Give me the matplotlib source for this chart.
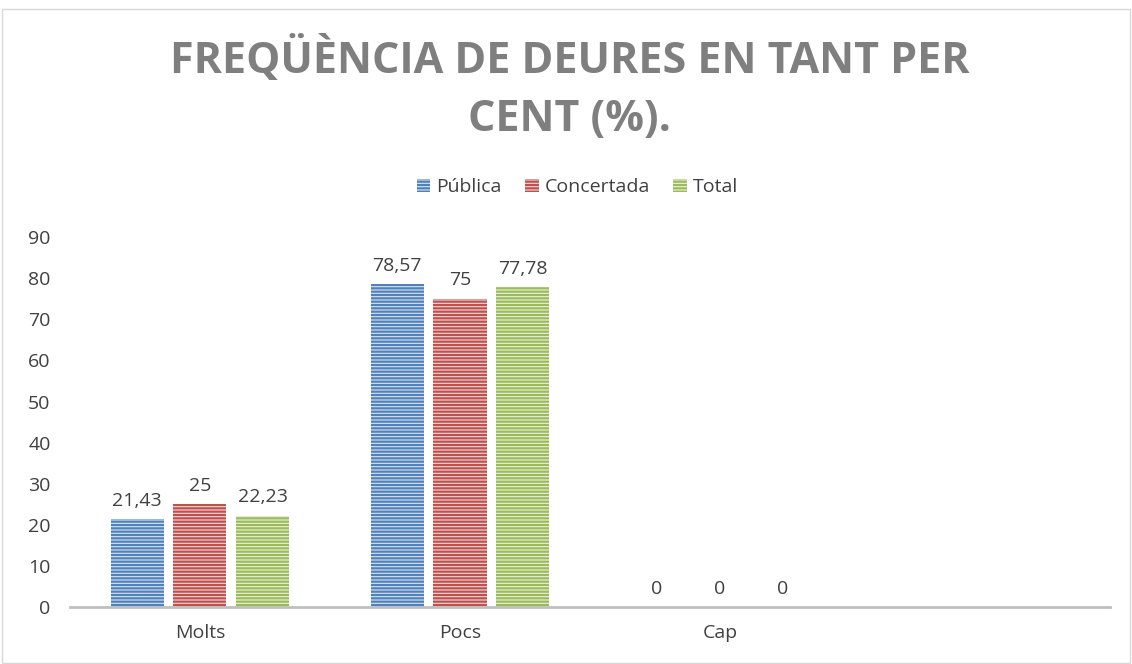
import numpy as np
import matplotlib.pyplot as plt
from matplotlib.patches import Rectangle

# DATA
categories = ["Molts", "Pocs", "Cap", ""]
series = ["Pública", "Concertada", "Total"]
publica = [21.43, 78.57, 0]
concertada = [25, 75, 0]
total = [22.23, 77.78, 0]
labels_pub = ["21,43", "78,57", "0"]
labels_con = ["25", "75", "0"]
labels_tot = ["22,23", "77,78", "0"]

colors = ["#4f81bd", "#c0504d", "#9bbb59"]
light = ["#dbe5f1", "#f2dcdb", "#ebf1de"]
txt = "#404040"

plt.rcParams['font.family'] = ['Open Sans', 'DejaVu Sans']
plt.rcParams['hatch.linewidth'] = 1.6

fig = plt.figure(figsize=(11.32, 6.64), dpi=100)
ax = fig.add_axes([0.0618, 0.0858, 0.9188, 0.557])

x = np.arange(len(categories))
w = 0.204
off = 0.242
values = [publica, concertada, total]
labs = [labels_pub, labels_con, labels_tot]
for i, (vals, lab) in enumerate(zip(values, labs)):
    xs = x[:3] + (i - 1) * off
    bars = ax.bar(xs, vals, width=w, facecolor=light[i], edgecolor=colors[i],
                  hatch='-----', linewidth=0, label=series[i])
    for b, v, t in zip(bars, vals, lab):
        ax.text(b.get_x() + w / 2, v + 2.3, t, ha='center', va='bottom',
                fontsize=14, color=txt)

ax.set_xlim(-0.5, 3.5)
ax.set_ylim(0, 90)
ax.set_yticks(range(0, 91, 10))
ax.set_xticks(x[:3])
ax.set_xticklabels(categories[:3])
ax.tick_params(length=0, labelsize=14, labelcolor=txt)
ax.tick_params(axis='x', pad=12)
ax.tick_params(axis='y', pad=14)
for s in ['top', 'right', 'left']:
    ax.spines[s].set_visible(False)
ax.spines['bottom'].set_color('#bfbfbf')
ax.spines['bottom'].set_linewidth(2)

# title (gray, bold, two lines)
fig.text(0.503, 0.91, "FREQÜÈNCIA DE DEURES EN TANT PER", ha='center', va='center',
         fontsize=31, fontweight='bold', color='#7f7f7f')
fig.text(0.503, 0.82, "CENT (%).", ha='center', va='center',
         fontsize=31, fontweight='bold', color='#7f7f7f')

leg = fig.legend(*ax.get_legend_handles_labels(), loc='center', bbox_to_anchor=(0.51, 0.718),
                 ncol=3, frameon=False, fontsize=14, handlelength=0.7, handleheight=0.7,
                 handletextpad=0.3, columnspacing=1.2)
for t in leg.get_texts():
    t.set_color(txt)

fig.patches.append(Rectangle((0.002, 0.002), 0.996, 0.984, transform=fig.transFigure,
                             fill=False, edgecolor='#d9d9d9', linewidth=1))

fig.savefig("out.png", dpi=100)
